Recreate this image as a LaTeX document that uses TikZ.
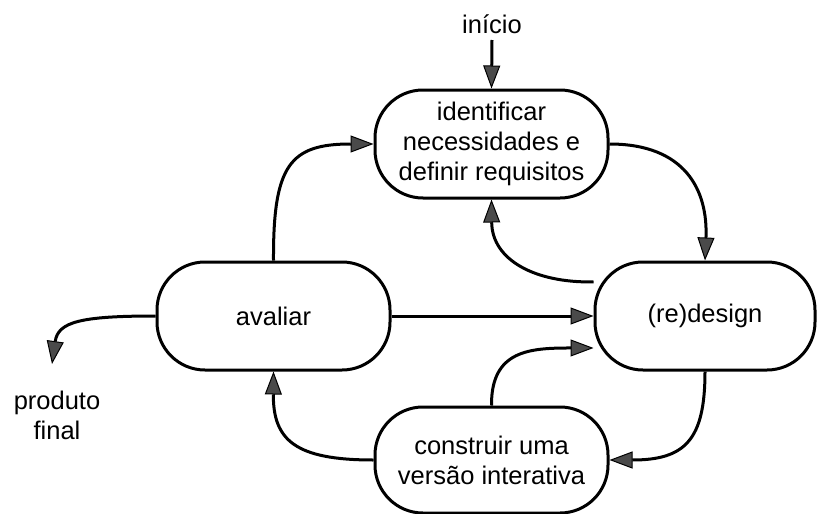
\documentclass[tikz,border=0pt]{standalone}
\usepackage{fontspec}
\setmainfont{Liberation Sans}
\usetikzlibrary{arrows.meta}
\definecolor{tipgray}{HTML}{4A4A4A}
\tikzset{
  box/.style={draw=black, line width=3pt, rectangle, rounded corners=48pt,
    minimum width=233pt, minimum height=108pt, align=center, inner sep=0pt,
    font=\fontsize{25.5}{30}\selectfont},
  lbl/.style={align=center, inner sep=0pt, font=\fontsize{25.5}{30}\selectfont},
  conn/.style={line width=3pt, -{Triangle[length=23pt,width=17pt,fill=tipgray,line width=1pt]}}
}
\begin{document}
\begin{tikzpicture}[x=1pt,y=-1pt]
\useasboundingbox[fill=white] (0,0) rectangle (817,514);
\node[box] (id) at (491.5,144) {identificar\\necessidades e\\definir requisitos};
\node[box, minimum width=220pt] (rd) at (705,316) {(re)design};
\node[box] (av) at (273.5,316) {avaliar};
\node[box, minimum height=106pt] (co) at (491.5,460) {construir uma\\versão interativa};
\node[lbl] (ini) at (492,24) {início};
\node[lbl] (pf) at (57,415) {produto\\final};
\coordinate (pfa) at (52,364);
\coordinate (ini0) at (492,40);
\draw[conn] (ini0) -- (id.north);
\draw[conn] (id.east) .. controls (685,144) and (708,190) .. (rd.north);
\draw[conn] (rd.163) .. controls (535,283) and (492,260) .. (id.south);
\draw[conn] (av.east) -- (rd.west);
\draw[conn] (co.north) .. controls (491,350) and (530,348) .. (rd.196);
\draw[conn] (rd.south) .. controls (705,440) and (685,460) .. (co.east);
\draw[conn] (co.west) .. controls (295,460) and (273,440) .. (av.south);
\draw[conn] (av.north) .. controls (273,165) and (290,144) .. (id.west);
\draw[conn] (av.west) .. controls (80,316) and (58,322) .. (pfa);
\end{tikzpicture}
\end{document}
